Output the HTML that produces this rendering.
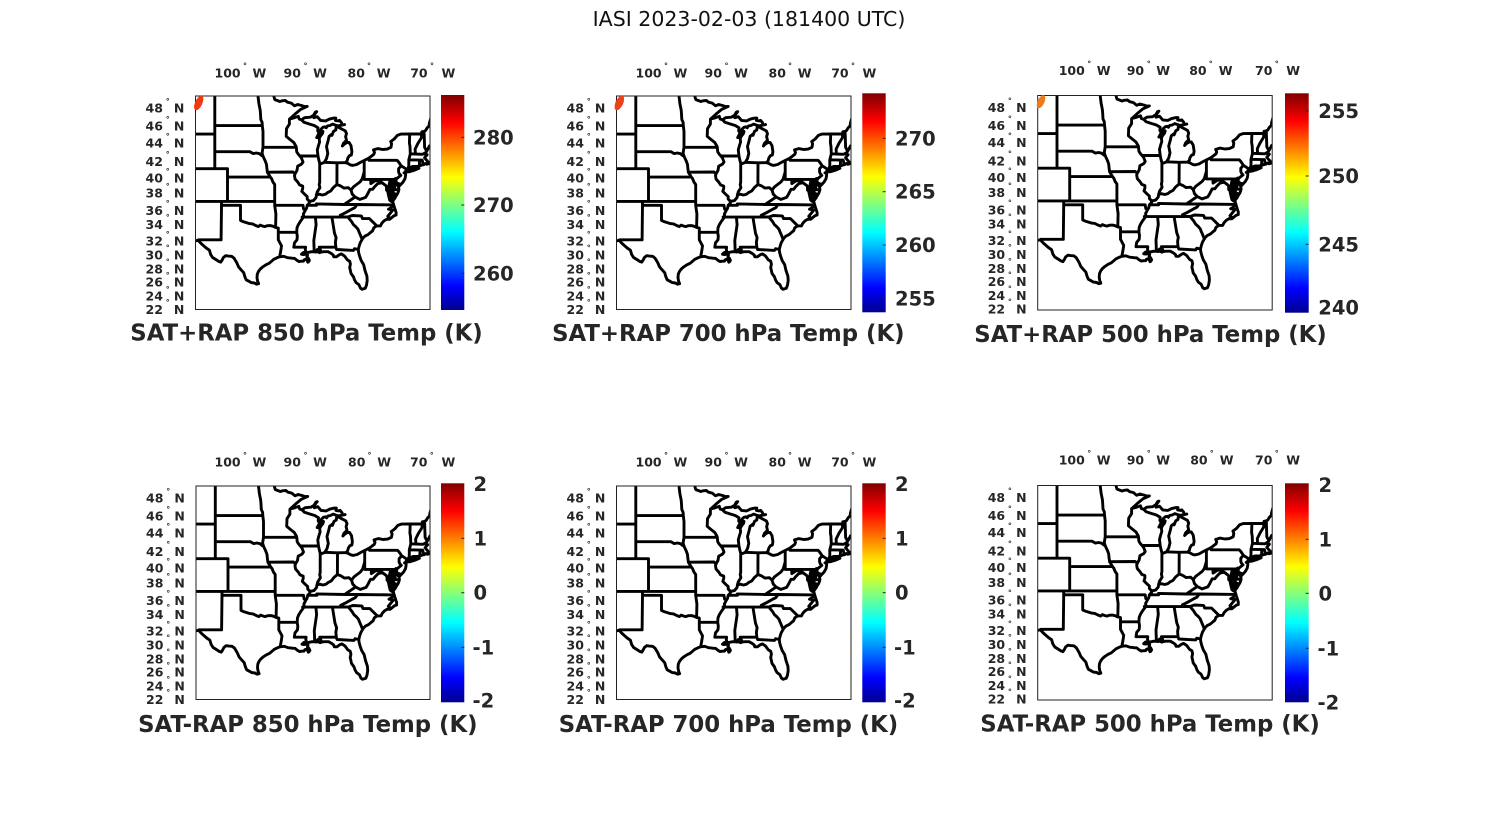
<!DOCTYPE html>
<html><head><meta charset="utf-8">
<style>
html,body{margin:0;padding:0;background:#fff;}
svg{display:block;}
text{font-family:"DejaVu Sans","Liberation Sans",sans-serif;}
.t text{font-weight:bold;fill:#262626;font-size:12.5px;}
.t tspan.d{font-size:8px;}
.cb text{font-weight:bold;fill:#262626;font-size:19.5px;}
.ttl{font-weight:bold;fill:#262626;font-size:22.8px;text-anchor:middle;}
.m{fill:none;stroke:#000;stroke-width:2.9;stroke-linejoin:round;stroke-linecap:round;}
.f{fill:#000;stroke:#000;stroke-width:1.5;stroke-linejoin:round;}
.bx{fill:none;stroke:#222;stroke-width:1;}
.tk{stroke:#262626;stroke-width:1;}
</style></head><body>
<svg id="fig" width="1500" height="825" viewBox="0 0 1500 825" xmlns="http://www.w3.org/2000/svg">
<defs>
<linearGradient id="jet" x1="0" y1="1" x2="0" y2="0">
 <stop offset="0" stop-color="#00008f"/>
 <stop offset="0.111" stop-color="#0000ff"/>
 <stop offset="0.365" stop-color="#00ffff"/>
 <stop offset="0.619" stop-color="#ffff00"/>
 <stop offset="0.873" stop-color="#ff0000"/>
 <stop offset="1" stop-color="#800000"/>
</linearGradient>
<clipPath id="clip"><rect x="0" y="0" width="234.5" height="213.5"/></clipPath>
</defs>
<rect width="1500" height="825" fill="#fff"/>
<text x="749" y="26" font-size="20.5" text-anchor="middle" fill="#111">IASI 2023-02-03 (181400 UTC)</text>

<!-- Panel 1 -->
<g transform="translate(195.5,96)">
 <g clip-path="url(#clip)"><path class="f" d=""/><path class="m" d=""/></g>
 <rect x="0" y="0" width="234.5" height="213.5" class="bx"/>
 <ellipse cx="3.2" cy="7" rx="3.6" ry="7.8" transform="rotate(25 3.2 7)" fill="#ee3a0e"/>
 <rect x="245.5" y="-1" width="23.3" height="215" fill="url(#jet)"/>
 <g class="tk"><line x1="265.8" x2="268.8" y1="41.3" y2="41.3"/><line x1="265.8" x2="268.8" y1="109" y2="109"/><line x1="265.8" x2="268.8" y1="177.3" y2="177.3"/></g>
 <g class="cb"><text x="277.5" y="48.3">280</text><text x="277.5" y="116">270</text><text x="277.5" y="184.3">260</text></g>
 <g class="t">
  <text x="-50" y="16.7">48<tspan class="d" x="-29.8" dy="-8.8">°</tspan><tspan x="-21.6" dy="8.8">N</tspan></text>
  <text x="-50" y="34.7">46<tspan class="d" x="-29.8" dy="-8.8">°</tspan><tspan x="-21.6" dy="8.8">N</tspan></text>
  <text x="-50" y="51.7">44<tspan class="d" x="-29.8" dy="-8.8">°</tspan><tspan x="-21.6" dy="8.8">N</tspan></text>
  <text x="-50" y="70">42<tspan class="d" x="-29.8" dy="-8.8">°</tspan><tspan x="-21.6" dy="8.8">N</tspan></text>
  <text x="-50" y="86.7">40<tspan class="d" x="-29.8" dy="-8.8">°</tspan><tspan x="-21.6" dy="8.8">N</tspan></text>
  <text x="-50" y="101.7">38<tspan class="d" x="-29.8" dy="-8.8">°</tspan><tspan x="-21.6" dy="8.8">N</tspan></text>
  <text x="-50" y="119">36<tspan class="d" x="-29.8" dy="-8.8">°</tspan><tspan x="-21.6" dy="8.8">N</tspan></text>
  <text x="-50" y="133">34<tspan class="d" x="-29.8" dy="-8.8">°</tspan><tspan x="-21.6" dy="8.8">N</tspan></text>
  <text x="-50" y="149.7">32<tspan class="d" x="-29.8" dy="-8.8">°</tspan><tspan x="-21.6" dy="8.8">N</tspan></text>
  <text x="-50" y="163.3">30<tspan class="d" x="-29.8" dy="-8.8">°</tspan><tspan x="-21.6" dy="8.8">N</tspan></text>
  <text x="-50" y="177.3">28<tspan class="d" x="-29.8" dy="-8.8">°</tspan><tspan x="-21.6" dy="8.8">N</tspan></text>
  <text x="-50" y="190.7">26<tspan class="d" x="-29.8" dy="-8.8">°</tspan><tspan x="-21.6" dy="8.8">N</tspan></text>
  <text x="-50" y="204.7">24<tspan class="d" x="-29.8" dy="-8.8">°</tspan><tspan x="-21.6" dy="8.8">N</tspan></text>
  <text x="-50" y="218">22<tspan class="d" x="-29.8" dy="-8.8">°</tspan><tspan x="-21.6" dy="8.8">N</tspan></text>
  <text x="19" y="-18.7">100<tspan class="d" x="47.5" dy="-8.7">°</tspan><tspan x="57" dy="8.7">W</tspan></text>
  <text x="88" y="-18.7">90<tspan class="d" x="108" dy="-8.7">°</tspan><tspan x="117.6" dy="8.7">W</tspan></text>
  <text x="152" y="-18.7">80<tspan class="d" x="171.5" dy="-8.7">°</tspan><tspan x="181.3" dy="8.7">W</tspan></text>
  <text x="214.7" y="-18.7">70<tspan class="d" x="234.5" dy="-8.7">°</tspan><tspan x="246" dy="8.7">W</tspan></text>
 </g>
 <text class="ttl" x="111" y="244.5">SAT+RAP 850 hPa Temp (K)</text>
</g>

<!-- Panel 2 -->
<g transform="translate(616.5,96)">
 <g clip-path="url(#clip)"><path class="f" d=""/><path class="m" d=""/></g>
 <rect x="0" y="0" width="234.5" height="213.5" class="bx"/>
 <ellipse cx="2.8" cy="7" rx="3.8" ry="7.8" transform="rotate(25 2.8 7)" fill="#f0401a"/>
 <rect x="245.8" y="-2.7" width="23.4" height="219" fill="url(#jet)"/>
 <g class="tk"><line x1="266.2" x2="269.2" y1="42.3" y2="42.3"/><line x1="266.2" x2="269.2" y1="95.7" y2="95.7"/><line x1="266.2" x2="269.2" y1="149" y2="149"/><line x1="266.2" x2="269.2" y1="202.3" y2="202.3"/></g>
 <g class="cb"><text x="278.5" y="49.3">270</text><text x="278.5" y="102.7">265</text><text x="278.5" y="156">260</text><text x="278.5" y="209.3">255</text></g>
 <g class="t">
  <text x="-50" y="16.7">48<tspan class="d" x="-29.8" dy="-8.8">°</tspan><tspan x="-21.6" dy="8.8">N</tspan></text>
  <text x="-50" y="34.7">46<tspan class="d" x="-29.8" dy="-8.8">°</tspan><tspan x="-21.6" dy="8.8">N</tspan></text>
  <text x="-50" y="51.7">44<tspan class="d" x="-29.8" dy="-8.8">°</tspan><tspan x="-21.6" dy="8.8">N</tspan></text>
  <text x="-50" y="70">42<tspan class="d" x="-29.8" dy="-8.8">°</tspan><tspan x="-21.6" dy="8.8">N</tspan></text>
  <text x="-50" y="86.7">40<tspan class="d" x="-29.8" dy="-8.8">°</tspan><tspan x="-21.6" dy="8.8">N</tspan></text>
  <text x="-50" y="101.7">38<tspan class="d" x="-29.8" dy="-8.8">°</tspan><tspan x="-21.6" dy="8.8">N</tspan></text>
  <text x="-50" y="119">36<tspan class="d" x="-29.8" dy="-8.8">°</tspan><tspan x="-21.6" dy="8.8">N</tspan></text>
  <text x="-50" y="133">34<tspan class="d" x="-29.8" dy="-8.8">°</tspan><tspan x="-21.6" dy="8.8">N</tspan></text>
  <text x="-50" y="149.7">32<tspan class="d" x="-29.8" dy="-8.8">°</tspan><tspan x="-21.6" dy="8.8">N</tspan></text>
  <text x="-50" y="163.3">30<tspan class="d" x="-29.8" dy="-8.8">°</tspan><tspan x="-21.6" dy="8.8">N</tspan></text>
  <text x="-50" y="177.3">28<tspan class="d" x="-29.8" dy="-8.8">°</tspan><tspan x="-21.6" dy="8.8">N</tspan></text>
  <text x="-50" y="190.7">26<tspan class="d" x="-29.8" dy="-8.8">°</tspan><tspan x="-21.6" dy="8.8">N</tspan></text>
  <text x="-50" y="204.7">24<tspan class="d" x="-29.8" dy="-8.8">°</tspan><tspan x="-21.6" dy="8.8">N</tspan></text>
  <text x="-50" y="218">22<tspan class="d" x="-29.8" dy="-8.8">°</tspan><tspan x="-21.6" dy="8.8">N</tspan></text>
  <text x="19" y="-18.7">100<tspan class="d" x="47.5" dy="-8.7">°</tspan><tspan x="57" dy="8.7">W</tspan></text>
  <text x="88" y="-18.7">90<tspan class="d" x="108" dy="-8.7">°</tspan><tspan x="117.6" dy="8.7">W</tspan></text>
  <text x="152" y="-18.7">80<tspan class="d" x="171.5" dy="-8.7">°</tspan><tspan x="181.3" dy="8.7">W</tspan></text>
  <text x="214.7" y="-18.7">70<tspan class="d" x="234.5" dy="-8.7">°</tspan><tspan x="246" dy="8.7">W</tspan></text>
 </g>
 <text class="ttl" x="111.8" y="245">SAT+RAP 700 hPa Temp (K)</text>
</g>

<!-- Panel 3 -->
<g transform="translate(1037.7,95.5)">
 <g clip-path="url(#clip)"><path class="f" d=""/><path class="m" d=""/></g>
 <rect x="0" y="0" width="234.5" height="214.5" class="bx"/>
 <ellipse cx="3.3" cy="6.2" rx="3.4" ry="7" transform="rotate(25 3.3 6.2)" fill="#ef7a1c"/>
 <rect x="247.3" y="-2.2" width="23.7" height="219.4" fill="url(#jet)"/>
 <g class="tk"><line x1="268" x2="271" y1="15.5" y2="15.5"/><line x1="268" x2="271" y1="80.5" y2="80.5"/><line x1="268" x2="271" y1="148.8" y2="148.8"/></g>
 <g class="cb"><text x="280.6" y="22.5">255</text><text x="280.6" y="87.5">250</text><text x="280.6" y="155.8">245</text><text x="280.6" y="219.2">240</text></g>
 <g class="t">
  <text x="-50" y="16.7">48<tspan class="d" x="-29.8" dy="-8.8">°</tspan><tspan x="-21.6" dy="8.8">N</tspan></text>
  <text x="-50" y="34.7">46<tspan class="d" x="-29.8" dy="-8.8">°</tspan><tspan x="-21.6" dy="8.8">N</tspan></text>
  <text x="-50" y="51.7">44<tspan class="d" x="-29.8" dy="-8.8">°</tspan><tspan x="-21.6" dy="8.8">N</tspan></text>
  <text x="-50" y="70">42<tspan class="d" x="-29.8" dy="-8.8">°</tspan><tspan x="-21.6" dy="8.8">N</tspan></text>
  <text x="-50" y="86.7">40<tspan class="d" x="-29.8" dy="-8.8">°</tspan><tspan x="-21.6" dy="8.8">N</tspan></text>
  <text x="-50" y="101.7">38<tspan class="d" x="-29.8" dy="-8.8">°</tspan><tspan x="-21.6" dy="8.8">N</tspan></text>
  <text x="-50" y="119">36<tspan class="d" x="-29.8" dy="-8.8">°</tspan><tspan x="-21.6" dy="8.8">N</tspan></text>
  <text x="-50" y="133">34<tspan class="d" x="-29.8" dy="-8.8">°</tspan><tspan x="-21.6" dy="8.8">N</tspan></text>
  <text x="-50" y="149.7">32<tspan class="d" x="-29.8" dy="-8.8">°</tspan><tspan x="-21.6" dy="8.8">N</tspan></text>
  <text x="-50" y="163.3">30<tspan class="d" x="-29.8" dy="-8.8">°</tspan><tspan x="-21.6" dy="8.8">N</tspan></text>
  <text x="-50" y="177.3">28<tspan class="d" x="-29.8" dy="-8.8">°</tspan><tspan x="-21.6" dy="8.8">N</tspan></text>
  <text x="-50" y="190.7">26<tspan class="d" x="-29.8" dy="-8.8">°</tspan><tspan x="-21.6" dy="8.8">N</tspan></text>
  <text x="-50" y="204.7">24<tspan class="d" x="-29.8" dy="-8.8">°</tspan><tspan x="-21.6" dy="8.8">N</tspan></text>
  <text x="-50" y="218">22<tspan class="d" x="-29.8" dy="-8.8">°</tspan><tspan x="-21.6" dy="8.8">N</tspan></text>
  <text x="21" y="-20.5">100<tspan class="d" x="49.5" dy="-8.7">°</tspan><tspan x="59" dy="8.7">W</tspan></text>
  <text x="89" y="-20.5">90<tspan class="d" x="109" dy="-8.7">°</tspan><tspan x="118.6" dy="8.7">W</tspan></text>
  <text x="151.5" y="-20.5">80<tspan class="d" x="171" dy="-8.7">°</tspan><tspan x="181" dy="8.7">W</tspan></text>
  <text x="217.3" y="-20.5">70<tspan class="d" x="237" dy="-8.7">°</tspan><tspan x="248.5" dy="8.7">W</tspan></text>
 </g>
 <text class="ttl" x="112.8" y="246.5">SAT+RAP 500 hPa Temp (K)</text>
</g>

<!-- Panel 4 -->
<g transform="translate(196,486)">
 <g clip-path="url(#clip)"><path class="f" d=""/><path class="m" d=""/></g>
 <rect x="0" y="0" width="234" height="213.5" class="bx"/>
 <rect x="245" y="-2.7" width="23.3" height="219" fill="url(#jet)"/>
 <g class="tk"><line x1="265.3" x2="268.3" y1="52.3" y2="52.3"/><line x1="265.3" x2="268.3" y1="106.7" y2="106.7"/><line x1="265.3" x2="268.3" y1="161.3" y2="161.3"/></g>
 <g class="cb"><text x="277.5" y="5">2</text><text x="277.5" y="59.3">1</text><text x="277.5" y="113.7">0</text><text x="276.5" y="168.3">-1</text><text x="276.5" y="221.7">-2</text></g>
 <g class="t">
  <text x="-50" y="16.7">48<tspan class="d" x="-29.8" dy="-8.8">°</tspan><tspan x="-21.6" dy="8.8">N</tspan></text>
  <text x="-50" y="34.7">46<tspan class="d" x="-29.8" dy="-8.8">°</tspan><tspan x="-21.6" dy="8.8">N</tspan></text>
  <text x="-50" y="51.7">44<tspan class="d" x="-29.8" dy="-8.8">°</tspan><tspan x="-21.6" dy="8.8">N</tspan></text>
  <text x="-50" y="70">42<tspan class="d" x="-29.8" dy="-8.8">°</tspan><tspan x="-21.6" dy="8.8">N</tspan></text>
  <text x="-50" y="86.7">40<tspan class="d" x="-29.8" dy="-8.8">°</tspan><tspan x="-21.6" dy="8.8">N</tspan></text>
  <text x="-50" y="101.7">38<tspan class="d" x="-29.8" dy="-8.8">°</tspan><tspan x="-21.6" dy="8.8">N</tspan></text>
  <text x="-50" y="119">36<tspan class="d" x="-29.8" dy="-8.8">°</tspan><tspan x="-21.6" dy="8.8">N</tspan></text>
  <text x="-50" y="133">34<tspan class="d" x="-29.8" dy="-8.8">°</tspan><tspan x="-21.6" dy="8.8">N</tspan></text>
  <text x="-50" y="149.7">32<tspan class="d" x="-29.8" dy="-8.8">°</tspan><tspan x="-21.6" dy="8.8">N</tspan></text>
  <text x="-50" y="163.3">30<tspan class="d" x="-29.8" dy="-8.8">°</tspan><tspan x="-21.6" dy="8.8">N</tspan></text>
  <text x="-50" y="177.3">28<tspan class="d" x="-29.8" dy="-8.8">°</tspan><tspan x="-21.6" dy="8.8">N</tspan></text>
  <text x="-50" y="190.7">26<tspan class="d" x="-29.8" dy="-8.8">°</tspan><tspan x="-21.6" dy="8.8">N</tspan></text>
  <text x="-50" y="204.7">24<tspan class="d" x="-29.8" dy="-8.8">°</tspan><tspan x="-21.6" dy="8.8">N</tspan></text>
  <text x="-50" y="218">22<tspan class="d" x="-29.8" dy="-8.8">°</tspan><tspan x="-21.6" dy="8.8">N</tspan></text>
  <text x="18.5" y="-19.3">100<tspan class="d" x="47" dy="-8.7">°</tspan><tspan x="56.5" dy="8.7">W</tspan></text>
  <text x="87.5" y="-19.3">90<tspan class="d" x="107.5" dy="-8.7">°</tspan><tspan x="117.1" dy="8.7">W</tspan></text>
  <text x="152" y="-19.3">80<tspan class="d" x="171.5" dy="-8.7">°</tspan><tspan x="181.3" dy="8.7">W</tspan></text>
  <text x="214" y="-19.3">70<tspan class="d" x="233.8" dy="-8.7">°</tspan><tspan x="245.5" dy="8.7">W</tspan></text>
 </g>
 <text class="ttl" x="111.8" y="246">SAT-RAP 850 hPa Temp (K)</text>
</g>

<!-- Panel 5 -->
<g transform="translate(616.5,486)">
 <g clip-path="url(#clip)"><path class="f" d=""/><path class="m" d=""/></g>
 <rect x="0" y="0" width="234.5" height="213.5" class="bx"/>
 <rect x="245.8" y="-2.7" width="23.4" height="219" fill="url(#jet)"/>
 <g class="tk"><line x1="266.2" x2="269.2" y1="52.3" y2="52.3"/><line x1="266.2" x2="269.2" y1="106.7" y2="106.7"/><line x1="266.2" x2="269.2" y1="161.3" y2="161.3"/></g>
 <g class="cb"><text x="278.5" y="5">2</text><text x="278.5" y="59.3">1</text><text x="278.5" y="113.7">0</text><text x="277.5" y="168.3">-1</text><text x="277.5" y="221.7">-2</text></g>
 <g class="t">
  <text x="-50" y="16.7">48<tspan class="d" x="-29.8" dy="-8.8">°</tspan><tspan x="-21.6" dy="8.8">N</tspan></text>
  <text x="-50" y="34.7">46<tspan class="d" x="-29.8" dy="-8.8">°</tspan><tspan x="-21.6" dy="8.8">N</tspan></text>
  <text x="-50" y="51.7">44<tspan class="d" x="-29.8" dy="-8.8">°</tspan><tspan x="-21.6" dy="8.8">N</tspan></text>
  <text x="-50" y="70">42<tspan class="d" x="-29.8" dy="-8.8">°</tspan><tspan x="-21.6" dy="8.8">N</tspan></text>
  <text x="-50" y="86.7">40<tspan class="d" x="-29.8" dy="-8.8">°</tspan><tspan x="-21.6" dy="8.8">N</tspan></text>
  <text x="-50" y="101.7">38<tspan class="d" x="-29.8" dy="-8.8">°</tspan><tspan x="-21.6" dy="8.8">N</tspan></text>
  <text x="-50" y="119">36<tspan class="d" x="-29.8" dy="-8.8">°</tspan><tspan x="-21.6" dy="8.8">N</tspan></text>
  <text x="-50" y="133">34<tspan class="d" x="-29.8" dy="-8.8">°</tspan><tspan x="-21.6" dy="8.8">N</tspan></text>
  <text x="-50" y="149.7">32<tspan class="d" x="-29.8" dy="-8.8">°</tspan><tspan x="-21.6" dy="8.8">N</tspan></text>
  <text x="-50" y="163.3">30<tspan class="d" x="-29.8" dy="-8.8">°</tspan><tspan x="-21.6" dy="8.8">N</tspan></text>
  <text x="-50" y="177.3">28<tspan class="d" x="-29.8" dy="-8.8">°</tspan><tspan x="-21.6" dy="8.8">N</tspan></text>
  <text x="-50" y="190.7">26<tspan class="d" x="-29.8" dy="-8.8">°</tspan><tspan x="-21.6" dy="8.8">N</tspan></text>
  <text x="-50" y="204.7">24<tspan class="d" x="-29.8" dy="-8.8">°</tspan><tspan x="-21.6" dy="8.8">N</tspan></text>
  <text x="-50" y="218">22<tspan class="d" x="-29.8" dy="-8.8">°</tspan><tspan x="-21.6" dy="8.8">N</tspan></text>
  <text x="19" y="-19.3">100<tspan class="d" x="47.5" dy="-8.7">°</tspan><tspan x="57" dy="8.7">W</tspan></text>
  <text x="88" y="-19.3">90<tspan class="d" x="108" dy="-8.7">°</tspan><tspan x="117.6" dy="8.7">W</tspan></text>
  <text x="152" y="-19.3">80<tspan class="d" x="171.5" dy="-8.7">°</tspan><tspan x="181.3" dy="8.7">W</tspan></text>
  <text x="214.7" y="-19.3">70<tspan class="d" x="234.5" dy="-8.7">°</tspan><tspan x="246" dy="8.7">W</tspan></text>
 </g>
 <text class="ttl" x="112" y="246">SAT-RAP 700 hPa Temp (K)</text>
</g>

<!-- Panel 6 -->
<g transform="translate(1037.7,485.5)">
 <g clip-path="url(#clip)"><path class="f" d=""/><path class="m" d=""/></g>
 <rect x="0" y="0" width="234.5" height="214.5" class="bx"/>
 <rect x="247.3" y="-2.2" width="23.7" height="219" fill="url(#jet)"/>
 <g class="tk"><line x1="268" x2="271" y1="53.8" y2="53.8"/><line x1="268" x2="271" y1="107.8" y2="107.8"/><line x1="268" x2="271" y1="162.8" y2="162.8"/></g>
 <g class="cb"><text x="280.8" y="6.5">2</text><text x="280.8" y="60.8">1</text><text x="280.8" y="114.8">0</text><text x="279.8" y="169.8">-1</text><text x="279.8" y="223.8">-2</text></g>
 <g class="t">
  <text x="-50" y="16.7">48<tspan class="d" x="-29.8" dy="-8.8">°</tspan><tspan x="-21.6" dy="8.8">N</tspan></text>
  <text x="-50" y="34.7">46<tspan class="d" x="-29.8" dy="-8.8">°</tspan><tspan x="-21.6" dy="8.8">N</tspan></text>
  <text x="-50" y="51.7">44<tspan class="d" x="-29.8" dy="-8.8">°</tspan><tspan x="-21.6" dy="8.8">N</tspan></text>
  <text x="-50" y="70">42<tspan class="d" x="-29.8" dy="-8.8">°</tspan><tspan x="-21.6" dy="8.8">N</tspan></text>
  <text x="-50" y="86.7">40<tspan class="d" x="-29.8" dy="-8.8">°</tspan><tspan x="-21.6" dy="8.8">N</tspan></text>
  <text x="-50" y="101.7">38<tspan class="d" x="-29.8" dy="-8.8">°</tspan><tspan x="-21.6" dy="8.8">N</tspan></text>
  <text x="-50" y="119">36<tspan class="d" x="-29.8" dy="-8.8">°</tspan><tspan x="-21.6" dy="8.8">N</tspan></text>
  <text x="-50" y="133">34<tspan class="d" x="-29.8" dy="-8.8">°</tspan><tspan x="-21.6" dy="8.8">N</tspan></text>
  <text x="-50" y="149.7">32<tspan class="d" x="-29.8" dy="-8.8">°</tspan><tspan x="-21.6" dy="8.8">N</tspan></text>
  <text x="-50" y="163.3">30<tspan class="d" x="-29.8" dy="-8.8">°</tspan><tspan x="-21.6" dy="8.8">N</tspan></text>
  <text x="-50" y="177.3">28<tspan class="d" x="-29.8" dy="-8.8">°</tspan><tspan x="-21.6" dy="8.8">N</tspan></text>
  <text x="-50" y="190.7">26<tspan class="d" x="-29.8" dy="-8.8">°</tspan><tspan x="-21.6" dy="8.8">N</tspan></text>
  <text x="-50" y="204.7">24<tspan class="d" x="-29.8" dy="-8.8">°</tspan><tspan x="-21.6" dy="8.8">N</tspan></text>
  <text x="-50" y="218">22<tspan class="d" x="-29.8" dy="-8.8">°</tspan><tspan x="-21.6" dy="8.8">N</tspan></text>
  <text x="21" y="-21">100<tspan class="d" x="49.5" dy="-8.7">°</tspan><tspan x="59" dy="8.7">W</tspan></text>
  <text x="89" y="-21">90<tspan class="d" x="109" dy="-8.7">°</tspan><tspan x="118.6" dy="8.7">W</tspan></text>
  <text x="152.5" y="-21">80<tspan class="d" x="172" dy="-8.7">°</tspan><tspan x="182" dy="8.7">W</tspan></text>
  <text x="217.3" y="-21">70<tspan class="d" x="237" dy="-8.7">°</tspan><tspan x="248.5" dy="8.7">W</tspan></text>
 </g>
 <text class="ttl" x="112.3" y="246.2">SAT-RAP 500 hPa Temp (K)</text>
</g>
</svg>
<script>
(function(){
var L=[
[[95.15,49.38],[94.95,49.37],[94.82,49.3],[94.68,48.87],[94.6,48.72],[93.8,48.52],[93.45,48.59],[92.95,48.62],[92.6,48.45],[92.0,48.35],[91.5,48.07],[91.0,48.2],[90.4,48.1],[89.9,47.98],[89.5,48.0],
[90.5,47.7],[91.4,47.2],[92.1,46.75],[92.0,46.7],[91.5,46.8],[90.9,46.95],[90.75,46.65],[90.4,46.57],[89.9,46.8],[89.0,46.85],[88.4,47.1],[88.0,47.45],[88.2,47.4],[88.5,47.05],[88.45,46.8],[87.9,46.9],[87.4,46.5],[86.6,46.45],[86.0,46.65],[85.3,46.75],[85.0,46.75],[85.05,46.5],[84.6,46.45],[84.4,46.5],[84.1,46.25],[84.0,46.0],[83.6,46.05],[84.1,45.98],[84.7,45.9],[85.5,46.1],[85.9,45.95],[86.3,45.9],[86.5,45.7],[86.7,45.8],[87.0,45.75],[87.3,45.55],[87.6,45.1],[87.75,44.95],[88.0,44.6],[87.8,44.6],[87.5,44.85],[87.0,45.3],[87.1,45.05],[87.4,44.8],[87.6,44.5],[87.55,44.1],[87.7,43.75],[87.9,43.2],[87.85,42.8],[87.8,42.5],[87.65,42.0],[87.55,41.7],[87.3,41.6],[86.8,41.75],[86.45,42.2],[86.25,42.8],[86.45,43.6],[86.2,44.25],[86.05,44.75],[85.6,45.0],[85.6,44.85],[85.35,45.3],[85.0,45.45],[84.95,45.75],[84.7,45.8],[84.3,45.65],[83.5,45.35],[83.3,45.05],[83.45,44.7],[83.3,44.3],[83.8,43.95],[83.95,43.65],[83.6,43.9],[83.2,44.05],[82.9,44.05],[82.6,43.7],[82.45,43.0],[82.55,42.6],[82.85,42.55],[83.1,42.25],[83.2,41.95],[83.45,41.73],[83.0,41.6],[82.7,41.45],[82.3,41.4],[81.7,41.5],[81.0,41.8],[80.5,41.98],[79.76,42.27],[79.0,42.7],[78.9,42.9],[79.05,43.2],[78.4,43.35],[77.6,43.25],[76.9,43.3],[76.3,43.5],[76.2,43.9],[76.35,44.15],[75.8,44.45],[75.3,44.85],[74.75,45.0],[73.35,45.01],[71.5,45.01],[71.45,45.25],[71.1,45.3],[70.85,45.4],[70.6,45.7],[70.3,45.9],[70.25,46.2],[70.05,46.7],[69.25,47.45],[68.3,47.35],[67.8,47.07],[67.8,45.7],[67.45,45.6],[67.0,44.9],
[67.5,44.55],[68.2,44.4],[68.8,44.35],[69.3,44.0],[69.8,43.8],[70.25,43.65],[70.6,43.15],[70.8,42.9],[70.85,42.6],[70.6,42.65],[71.0,42.3],[70.7,42.0],[70.6,41.95],[70.5,41.77],[70.0,41.75],[70.0,42.05],[70.0,41.68],[70.65,41.53],[70.9,41.62],[71.15,41.48],[71.4,41.45],[71.85,41.32],[72.3,41.27],[72.9,41.26],[73.3,41.12],[73.65,41.0],[73.85,40.85],[74.0,40.7],[74.05,40.58],[74.25,40.5],[74.0,40.45],[74.0,40.2],[74.1,39.8],[74.4,39.4],[74.95,38.93],[74.9,39.15],[75.15,39.2],[75.5,39.35],[75.55,39.6],[75.45,39.3],[75.3,39.0],[75.1,38.8],[75.05,38.45],[75.15,38.2],[75.25,38.0],[75.5,37.7],[75.65,37.45],[75.95,37.12],[75.95,37.5],[75.9,37.95],[76.05,38.25],[76.3,38.7],[76.2,38.95],[76.05,39.3],[76.1,39.55],[76.3,39.4],[76.45,39.2],[76.5,38.9],[76.55,38.5],[76.4,38.3],[76.3,38.05],[76.25,37.9],[76.35,37.6],[76.3,37.3],[76.35,37.05],[76.0,36.92],[75.95,36.75],[75.87,36.55],[75.7,36.1],[75.5,35.6],[75.5,35.25],[75.75,35.2],[76.0,35.05],[76.5,34.7],[77.0,34.7],[77.4,34.5],[77.75,34.2],[77.95,33.85],[78.55,33.86],[79.0,33.6],[79.2,33.2],[79.5,33.0],[79.9,32.7],[80.4,32.5],[80.7,32.25],[80.85,32.05],[81.15,31.6],[81.3,31.2],[81.45,30.7],[81.4,30.3],[81.25,29.8],[81.0,29.2],[80.6,28.6],[80.55,28.4],[80.4,27.8],[80.1,27.0],[80.05,26.4],[80.15,25.75],[80.35,25.3],[80.85,25.15],[81.1,25.3],[81.35,25.8],[81.8,26.1],[82.05,26.5],[82.2,26.9],[82.6,27.4],[82.7,27.8],[82.8,28.2],[82.7,28.7],[82.8,29.1],[83.2,29.3],[83.6,29.8],[84.1,30.1],[84.4,30.0],[84.9,29.7],[85.3,29.7],[85.4,29.95],[85.7,30.15],[86.2,30.4],[86.9,30.4],[87.3,30.35],[87.55,30.28],[87.9,30.4],[87.9,30.7],[88.0,30.55],[88.1,30.35],[88.4,30.38],[88.8,30.4],[89.35,30.3],[89.6,30.18],[89.75,30.05],[89.45,29.95],[89.55,29.7],[89.3,29.5],[89.15,29.2],[89.3,29.0],[89.4,28.95],[89.5,29.2],[89.75,29.35],[89.95,29.3],[90.1,29.1],[90.4,29.1],[90.8,29.05],[91.1,29.2],[91.5,29.5],[91.8,29.5],[92.2,29.55],[92.6,29.58],[93.2,29.77],[93.85,29.7],[94.3,29.55],[94.75,29.35],[95.1,29.1],[95.5,28.8],[96.0,28.6],[96.5,28.3],[96.9,28.0],[97.15,27.7],[97.35,27.3],[97.4,26.8],[97.3,26.3],[97.15,25.95],
[97.5,25.88],[97.8,26.05],[98.3,26.1],[98.7,26.3],[99.1,26.5],[99.3,26.9],[99.5,27.5],[99.9,27.9],[100.3,28.3],[100.6,28.9],[101.0,29.5],[101.4,29.77],[101.9,29.8],[102.35,29.85],[102.7,29.6],[102.9,29.25],[103.1,28.97],[103.4,29.05],[103.8,29.27],[104.4,29.6],[104.7,30.0],[104.9,30.6],[105.4,30.9],[105.8,31.2],[106.2,31.5],[106.5,31.77],[106.62,31.95],[107.5,31.78],[108.2,31.78]],
[[104.05,49],[104.05,41],[102.05,41],[102.05,37]],
[[110,45],[104.05,45]],
[[110,41],[104.05,41]],
[[110,37],[94.62,37]],
[[103.0,37],[103.0,36.5],[103.06,32.0],[106.62,32.0],[106.62,31.95]],
[[103.0,36.5],[100.0,36.5],[100.0,34.56],[99.6,34.4],[99.2,34.3],[98.6,34.15],[98.1,34.1],[97.6,33.9],[97.2,33.75],[96.9,33.95],[96.6,33.85],[96.2,33.75],[95.8,33.87],[95.3,33.88],[94.9,33.8],[94.48,33.64],[94.43,35.4],[94.62,36.5],[94.62,39.1],[94.9,39.4],[95.1,39.8],[95.3,40.0]],
[[102.05,40],[95.3,40.0],[95.5,40.25],[95.77,40.58],[95.85,41.0],[95.9,41.5],[96.1,41.9],[96.35,42.3],[96.45,42.49],[96.65,42.55],[97.0,42.77],[97.5,42.85],[98.0,42.78],[98.5,43.0],[104.05,43.0]],
[[95.77,40.58],[91.73,40.61],[91.42,40.38]],
[[96.45,42.49],[96.6,42.85],[96.45,43.5],[96.45,45.3],[96.56,45.94],[104.05,45.94]],
[[96.56,45.94],[96.6,46.3],[96.8,46.6],[96.85,47.2],[96.9,47.6],[97.1,48.3],[97.23,49.0]],
[[96.45,43.5],[91.22,43.5]],
[[92.1,46.75],[92.3,46.65],[92.3,46.1],[92.75,45.6],[92.8,44.75],[92.3,44.45],[91.6,44.05],[91.25,43.6],[91.22,43.5],[91.15,43.0],[90.9,42.7],[90.64,42.5],[90.4,42.25],[90.15,41.8],[90.4,41.55],[91.0,41.3],[91.1,40.8],[91.42,40.38],[91.5,40.15],[91.4,39.75],[91.0,39.4],[90.7,39.05],[90.2,38.9],[90.2,38.6],[90.35,38.25],[89.9,37.9],[89.5,37.6],[89.5,37.3],[89.15,37.0],[89.15,36.8],[89.5,36.5],[89.6,36.1],[89.7,36.0],[90.1,35.4],[90.05,35.0],[90.3,34.75],[90.6,34.4],[90.9,34.0],[91.1,33.6],[91.15,33.0],[91.05,32.5],[91.1,32.0],[91.5,31.6],[91.6,31.0],[89.75,31.0],[89.8,30.65],[89.6,30.18]],
[[91.15,33.0],[94.04,33.02],[94.04,33.55],[94.48,33.64]],
[[94.04,33.02],[94.04,32.0],[93.8,31.6],[93.55,31.2],[93.6,30.8],[93.7,30.3],[93.85,29.7]],
[[94.62,36.5],[90.15,36.5],[90.07,36.0],[89.7,36.0]],
[[90.64,42.5],[87.8,42.5]],
[[87.6,45.1],[87.85,45.35],[87.8,45.7],[88.4,45.95],[89.1,46.1],[90.0,46.3],[90.4,46.57]],
[[87.53,41.7],[87.53,39.35],[87.6,39.1],[87.5,38.7],[87.9,38.2],[88.05,37.8],[88.1,37.5],[88.5,37.1],[89.15,37.0]],
[[88.05,37.8],[87.6,37.9],[87.1,37.8],[86.6,37.9],[86.3,38.1],[85.8,38.3],[85.4,38.7],[84.82,39.1],[84.3,38.95],[83.7,38.65],[83.0,38.7],[82.6,38.4],[82.2,38.8],[81.8,39.05],[81.2,39.4],[80.85,39.75],[80.6,40.4],[80.52,40.64]],
[[86.82,41.76],[84.8,41.7],[83.45,41.73]],
[[84.8,41.7],[84.82,39.1]],
[[80.52,40.64],[80.52,41.98]],
[[80.52,40.64],[80.52,39.72],[75.79,39.72],[75.6,39.83],[75.4,39.8]],
[[75.55,39.6],[75.4,39.8],[75.1,40.0],[74.75,40.2],[75.0,40.4],[75.1,40.6],[75.1,41.0],[74.7,41.35],[75.1,41.8],[75.35,42.0],[79.76,42.0],[79.76,42.27]],
[[74.7,41.35],[74.0,41.0]],
[[73.65,41.0],[73.5,41.3],[73.5,42.05],[73.26,42.75],[73.3,43.6],[73.4,44.0],[73.35,45.0]],
[[73.5,42.05],[71.8,42.02],[71.85,41.32]],
[[71.8,42.02],[71.38,42.02],[71.3,41.75],[71.15,41.48]],
[[73.26,42.75],[72.46,42.73],[71.3,42.7],[70.9,42.87]],
[[72.46,42.73],[72.5,43.3],[72.1,43.9],[71.5,44.6],[71.5,45.01]],
[[70.7,43.07],[71.0,43.5],[71.08,45.3]],
[[82.6,38.4],[82.4,37.9],[81.95,37.55],[82.7,37.15],[83.67,36.6],[88.07,36.68],[88.05,36.5],[89.5,36.5]],
[[83.67,36.6],[81.65,36.6],[75.87,36.55]],
[[81.65,36.6],[82.0,36.2],[82.6,35.95],[83.5,35.55],[84.3,35.22],[84.32,34.99],[90.3,35.0]],
[[81.95,37.55],[81.2,37.25],[80.3,37.5],[80.0,37.9],[79.6,38.5],[79.2,38.5],[78.9,38.8],[78.4,39.2],[77.8,39.3],[77.72,39.32]],
[[77.72,39.32],[78.3,39.6],[78.8,39.55],[79.48,39.2],[79.48,39.72]],
[[77.72,39.32],[77.1,38.95],[77.0,38.8],[77.0,38.4],[76.6,38.2],[76.3,38.05]],
[[75.79,39.72],[75.7,38.45],[75.05,38.45]],
[[75.65,37.95],[75.9,37.95]],
[[84.32,35.0],[83.1,35.0],[82.4,35.2],[81.05,35.15],[80.93,35.1],[80.8,34.8],[79.7,34.8],[78.55,33.86]],
[[83.1,35.0],[82.8,34.7],[82.5,34.4],[82.2,34.0],[81.8,33.7],[81.5,33.4],[81.3,33.0],[81.1,32.6],[80.85,32.05]],
[[85.6,34.99],[85.2,32.9],[84.95,32.3],[85.05,31.7],[85.0,31.0]],
[[85.0,31.0],[84.86,30.7],[82.2,30.57],[82.05,30.8],[81.45,30.7]],
[[85.0,31.0],[87.6,31.0],[87.4,30.6],[87.55,30.28]],
[[88.2,34.99],[88.1,34.0],[88.45,31.9],[88.4,30.38]],
[[75.87,36.55],[76.3,36.2],[76.7,36.0],[76.0,35.9],[76.5,35.4],[76.8,35.1],[76.5,34.9],[77.0,34.7]],
[[74.0,40.6],[73.4,40.65],[72.7,40.8],[71.9,41.05],[72.4,41.0],[73.0,40.95],[73.7,40.87]],
[[90.4,30.05],[90.1,30.3],[89.8,30.25],[89.75,30.05],[90.1,30.0],[90.4,30.05]]
];
var F=[[[76.6,39.5],[76.75,38.9],[76.95,38.3],[76.75,37.6],[76.6,37.1],[76.05,36.85],[75.85,37.3],[75.8,38.0],[75.95,38.6],[75.95,39.3],[76.1,39.6]]];
function merc(l){return Math.log(Math.tan(Math.PI/4+l*Math.PI/360));}
function P(p){return (45+(100-p[0])*6.35).toFixed(1)+" "+(358-363*merc(p[1])).toFixed(1);}
function build(A,close){var d="";for(var i=0;i<A.length;i++){var a=A[i];d+="M"+P(a[0]);for(var j=1;j<a.length;j++)d+="L"+P(a[j]);if(close)d+="Z";}return d;}
var d=build(L,false),df=build(F,true);
var ps=document.querySelectorAll("path.m");
for(var k=0;k<ps.length;k++)ps[k].setAttribute("d",d);
var fs=document.querySelectorAll("path.f");
for(var k2=0;k2<fs.length;k2++)fs[k2].setAttribute("d",df);
})();
</script>
</body></html>
